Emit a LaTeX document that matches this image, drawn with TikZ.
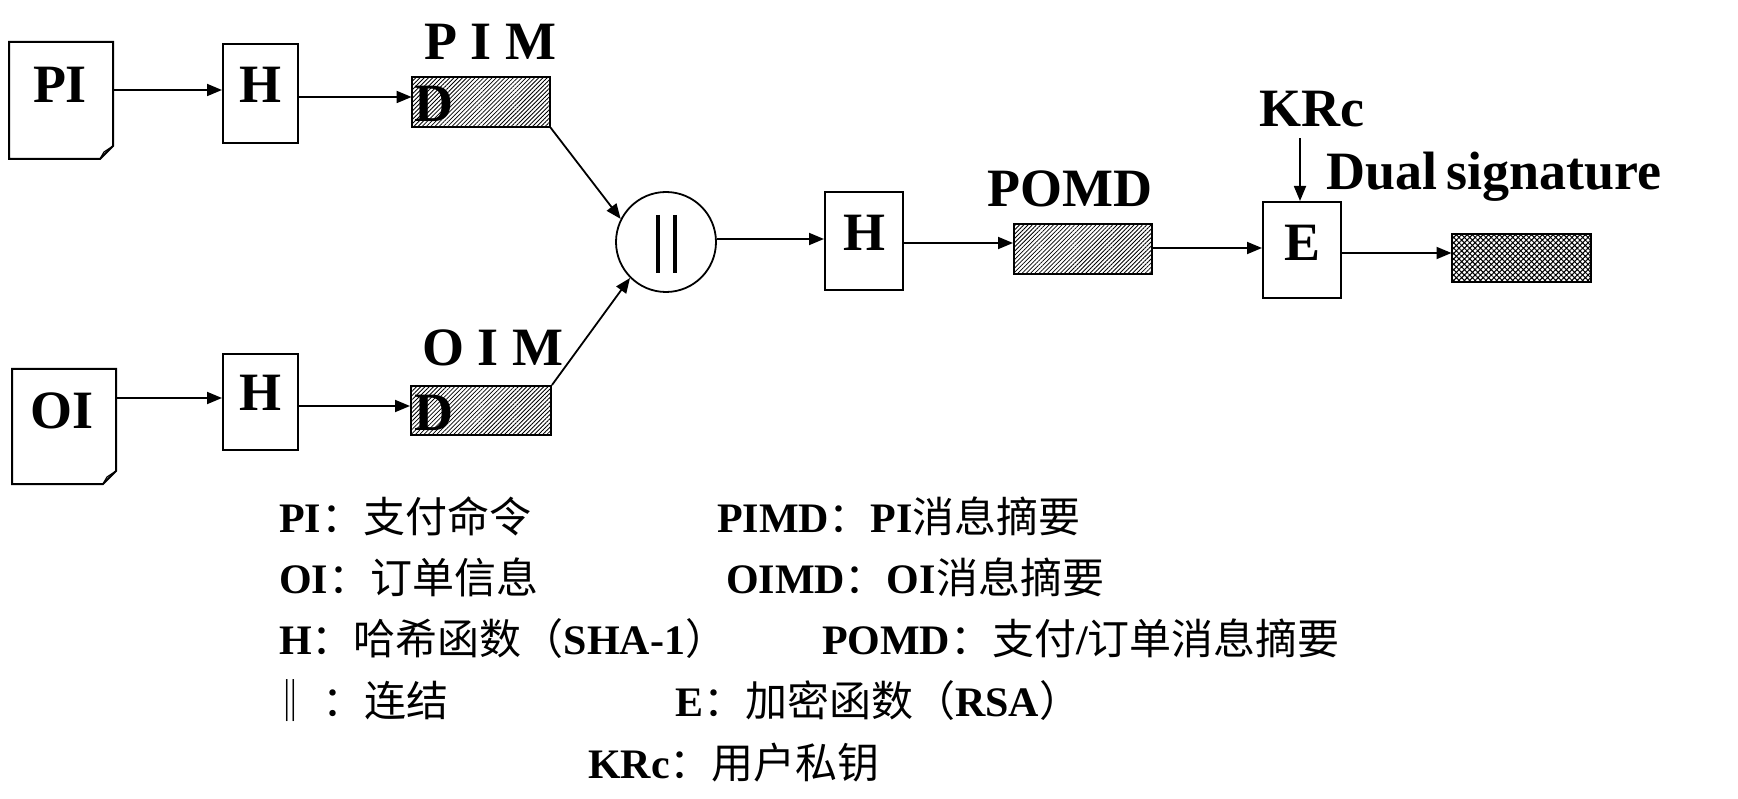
\documentclass[tikz,border=0pt]{standalone}
\usepackage{fontspec}
\setmainfont{Liberation Serif}
\newfontfamily\cjkfont{Noto Sans CJK SC}
\newcommand{\zhtxt}[1]{{\cjkfont\mdseries #1}}
\usetikzlibrary{arrows.meta,patterns.meta}
\begin{document}
\begin{tikzpicture}[x=1pt,y=-1pt,line width=2pt,
  arr/.style={-{Triangle[length=15pt,width=12pt]},line width=1.8pt},
  mainlbl/.style={font=\fontsize{54}{60}\selectfont\bfseries,inner sep=0pt,anchor=base},
  leftlbl/.style={font=\fontsize{54}{60}\selectfont\bfseries,inner sep=0pt,anchor=base west},
  leg/.style={font=\fontsize{42}{50}\selectfont\bfseries,inner sep=0pt,anchor=base west},
  box/.style={draw,rectangle,inner sep=0pt,line width=2pt},
  docarea/.style={rectangle,inner sep=0pt},
  digest/.style={draw,rectangle,inner sep=0pt,line width=2pt,
     pattern={Lines[angle=45,distance=3pt,line width=0.8pt]}},
  sigbox/.style={draw,rectangle,inner sep=0pt,line width=2pt,
     pattern={Hatch[angle=45,distance=3.8pt,line width=1pt]}},
  joinc/.style={draw,circle,inner sep=0pt,minimum size=100pt,line width=1.8pt},
  docline/.style={line width=2pt,line join=miter},
  bar/.style={line width=3.6pt}
]
\useasboundingbox[fill=white] (0,0) rectangle (1738,799);

% ---- documents
\node[docarea,minimum width=102pt,minimum height=115pt] (PI) at (61,100.5) {};
\draw[docline] (PI.north west) -- (PI.north east) -- ([yshift=13pt]PI.south east)
  -- ([xshift=-13pt]PI.south east) -- (PI.south west) -- cycle;
\draw[line width=1.2pt] ([yshift=13pt]PI.south east) -- ([xshift=-9pt,yshift=7pt]PI.south east)
  -- ([xshift=-13pt]PI.south east);
\node[mainlbl] (tPI) at (60,103) {PI};

\node[docarea,minimum width=102pt,minimum height=113pt] (OI) at (64,426.5) {};
\draw[docline] (OI.north west) -- (OI.north east) -- ([yshift=13pt]OI.south east)
  -- ([xshift=-13pt]OI.south east) -- (OI.south west) -- cycle;
\draw[line width=1.2pt] ([yshift=13pt]OI.south east) -- ([xshift=-9pt,yshift=7pt]OI.south east)
  -- ([xshift=-13pt]OI.south east);
\node[mainlbl] (tOI) at (62,429) {OI};

% ---- hash boxes
\node[box,minimum width=75pt,minimum height=99pt] (H1) at (260.5,93.5) {};
\node[mainlbl] (tH1) at (260.5,103) {H};
\node[box,minimum width=75pt,minimum height=96pt] (H2) at (260.5,402) {};
\node[mainlbl] (tH2) at (260.5,411) {H};
\node[box,minimum width=78pt,minimum height=98pt] (H3) at (864,241) {};
\node[mainlbl] (tH3) at (864,251) {H};
\node[box,minimum width=78pt,minimum height=96pt] (E) at (1302,250) {};
\node[mainlbl] (tE) at (1302,261) {E};

% ---- digests
\node[digest,minimum width=138pt,minimum height=50pt] (PIMD) at (481,102) {};
\node[leftlbl] (tPIM) at (423,60) {P I M};
\node[leftlbl] (tPID) at (413,122) {D};
\node[digest,minimum width=140pt,minimum height=49pt] (OIMD) at (481,410.5) {};
\node[leftlbl] (tOIM) at (421,366) {O I M};
\node[leftlbl] (tOID) at (413,431) {D};
\node[digest,minimum width=138pt,minimum height=50pt] (POMD) at (1083,249) {};
\node[mainlbl] (tPOMD) at (1070,207) {POMD};
\node[sigbox,minimum width=139pt,minimum height=48pt] (OUT) at (1521.5,258) {};

% ---- concatenation
\node[joinc] (C) at (666,242) {};
\draw[bar] (658,215) -- (658,273);
\draw[bar] (675,215) -- (675,273);

% ---- key and signature
\node[mainlbl] (KRc) at (1312,127) {KRc};
\node[leftlbl] (DS) at (1325,190) {Dual\hspace{-4pt} signature};

% ---- connectors
\draw[arr] (PI.east |- 0,90) -- (H1.west |- 0,90);
\draw[arr] (H1.east |- 0,97) -- (PIMD.west |- 0,97);
\draw[arr] (OI.east |- 0,398) -- (H2.west |- 0,398);
\draw[arr] (H2.east |- 0,406) -- (OIMD.west |- 0,406);
\draw[arr] (PIMD.south east) -- (C.153);
\draw[arr] (OIMD.north east) -- (C.225);
\draw[arr] (C.east |- 0,239) -- (H3.west |- 0,239);
\draw[arr] (H3.east |- 0,243) -- (POMD.west |- 0,243);
\draw[arr] (POMD.east |- 0,248) -- (E.west |- 0,248);
\draw[arr] (E.east |- 0,253) -- (OUT.west |- 0,253);
\draw[arr] ([yshift=-10pt]KRc.south -| 1300,0) -- (E.north -| 1300,0);

% ---- legend
\node[leg] (l1a) at (278,532) {PI\zhtxt{：支付命令}};
\node[leg] (l1b) at (716,532) {PIMD\zhtxt{：}PI\zhtxt{消息摘要}};
\node[leg] (l2a) at (278,593) {OI\zhtxt{：订单信息}};
\node[leg] (l2b) at (725,593) {OIMD\zhtxt{：}OI\zhtxt{消息摘要}};
\node[leg] (l3a) at (278,654) {H\zhtxt{：哈希函数（}SHA-1\zhtxt{）}};
\node[leg] (l3b) at (821,654) {POMD\zhtxt{：支付}/\zhtxt{订单消息摘要}};
\node[leg] (l4a) at (268,716) {\zhtxt{‖\hspace{12pt}：连结}};
\node[leg] (l4b) at (674,716) {E\zhtxt{：加密函数（}RSA\zhtxt{）}};
\node[leg] (l5) at (587,778) {KRc\zhtxt{：用户私钥}};
\end{tikzpicture}
\end{document}
